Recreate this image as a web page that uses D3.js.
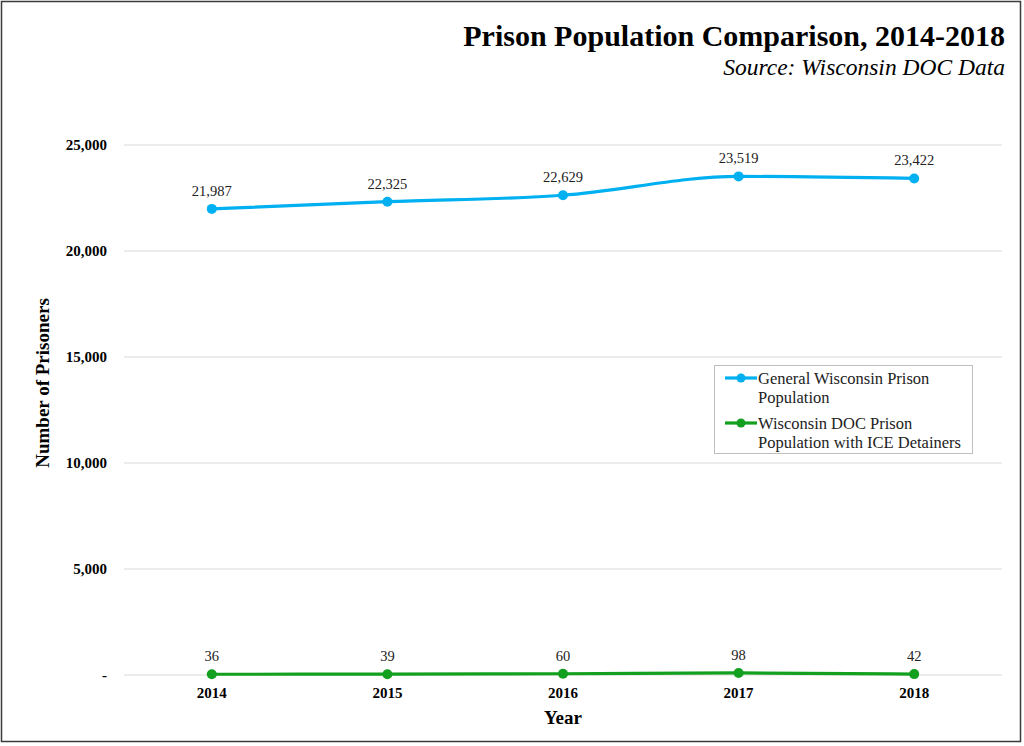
<!DOCTYPE html>
<html><head><meta charset="utf-8">
<script src="https://cdn.jsdelivr.net/npm/d3@7"></script>
<style>body{margin:0;background:#fff}svg{display:block}text{font-family:"Liberation Serif","Times New Roman",serif}</style>
</head><body><svg id="c" width="1024" height="746"></svg>
<script>
const years = ["2014","2015","2016","2017","2018"];
const generalPop = [21987, 22325, 22629, 23519, 23422];
const icePop = [36, 39, 60, 98, 42];
const yTicks = [0, 5000, 10000, 15000, 20000, 25000];
const seriesNames = ["General Wisconsin Prison Population", "Wisconsin DOC Prison Population with ICE Detainers"];
const colors = ["#00B0F0", "#12A01E"];

const svg = d3.select("#c");
svg.append("rect").attr("x",1.5).attr("y",1.5).attr("width",1019).attr("height",740)
  .attr("fill","#fff").attr("stroke","#3a3a3a").attr("stroke-width",1.5);

const L=124,R=1002,T=145,B=675;
const x = d3.scaleBand().domain(years).range([L,R]);
const y = d3.scaleLinear().domain([0,25000]).range([B,T]);
const fmt = d3.format(",");

// grid
svg.append("g").selectAll("line").data(yTicks).join("line")
  .attr("x1",L).attr("x2",R).attr("y1",d=>y(d)).attr("y2",d=>y(d))
  .attr("stroke","#d9d9d9").attr("stroke-width",1);

// y axis
const ya = svg.append("g").attr("transform",`translate(${L},0)`)
  .call(d3.axisLeft(y).tickValues(yTicks).tickSize(0).tickPadding(17).tickFormat(d=>d===0?"-":fmt(d)));
ya.select(".domain").remove();
ya.selectAll("text").attr("font-size",15).attr("font-weight","bold").attr("fill","#000");

// x axis
const xa = svg.append("g").attr("transform",`translate(0,${B})`)
  .call(d3.axisBottom(x).tickSize(0).tickPadding(12));
xa.select(".domain").remove();
xa.selectAll("text").attr("font-size",15).attr("font-weight","bold").attr("fill","#000");

const line = d3.line().x((d,i)=>x(years[i])+x.bandwidth()/2).y(d=>y(d)).curve(d3.curveMonotoneX);
[generalPop, icePop].forEach((data,si)=>{
  const g = svg.append("g");
  g.append("path").datum(data).attr("d",line).attr("fill","none")
    .attr("stroke",colors[si]).attr("stroke-width",3.2);
  g.selectAll("circle").data(data).join("circle")
    .attr("cx",(d,i)=>x(years[i])+x.bandwidth()/2).attr("cy",d=>y(d)).attr("r",5)
    .attr("fill",colors[si]);
  g.selectAll("text").data(data).join("text")
    .attr("x",(d,i)=>x(years[i])+x.bandwidth()/2).attr("y",d=>y(d)-13)
    .attr("text-anchor","middle").attr("font-size",14.5).attr("fill","#222").text(d=>fmt(d));
});

// titles
svg.append("text").attr("x",1005).attr("y",46).attr("text-anchor","end")
  .attr("font-size",30).attr("font-weight","bold").text("Prison Population Comparison, 2014-2018");
svg.append("text").attr("x",1005).attr("y",75).attr("text-anchor","end")
  .attr("font-size",23.5).attr("font-style","italic").text("Source: Wisconsin DOC Data");

svg.append("text").attr("transform","translate(49,383) rotate(-90)").attr("text-anchor","middle")
  .attr("font-size",19).attr("font-weight","bold").text("Number of Prisoners");
svg.append("text").attr("x",563).attr("y",724).attr("text-anchor","middle")
  .attr("font-size",19).attr("font-weight","bold").text("Year");

// legend
const lg = svg.append("g");
lg.append("rect").attr("x",714.5).attr("y",365.5).attr("width",258).attr("height",88)
  .attr("fill","#fff").attr("stroke","#bfbfbf").attr("stroke-width",1);
const legendLines = [["General Wisconsin Prison","Population"],["Wisconsin DOC Prison","Population with ICE Detainers"]];
legendLines.forEach((lines,i)=>{
  const yy = 378 + i*45;
  lg.append("line").attr("x1",725).attr("x2",757).attr("y1",yy).attr("y2",yy)
    .attr("stroke",colors[i]).attr("stroke-width",3.2);
  lg.append("circle").attr("cx",741).attr("cy",yy).attr("r",4.5).attr("fill",colors[i]);
  lines.forEach((t,j)=>{
    lg.append("text").attr("x",758).attr("y",yy+6+j*19).attr("font-size",16.5).attr("fill","#222").text(t);
  });
});
</script></body></html>
